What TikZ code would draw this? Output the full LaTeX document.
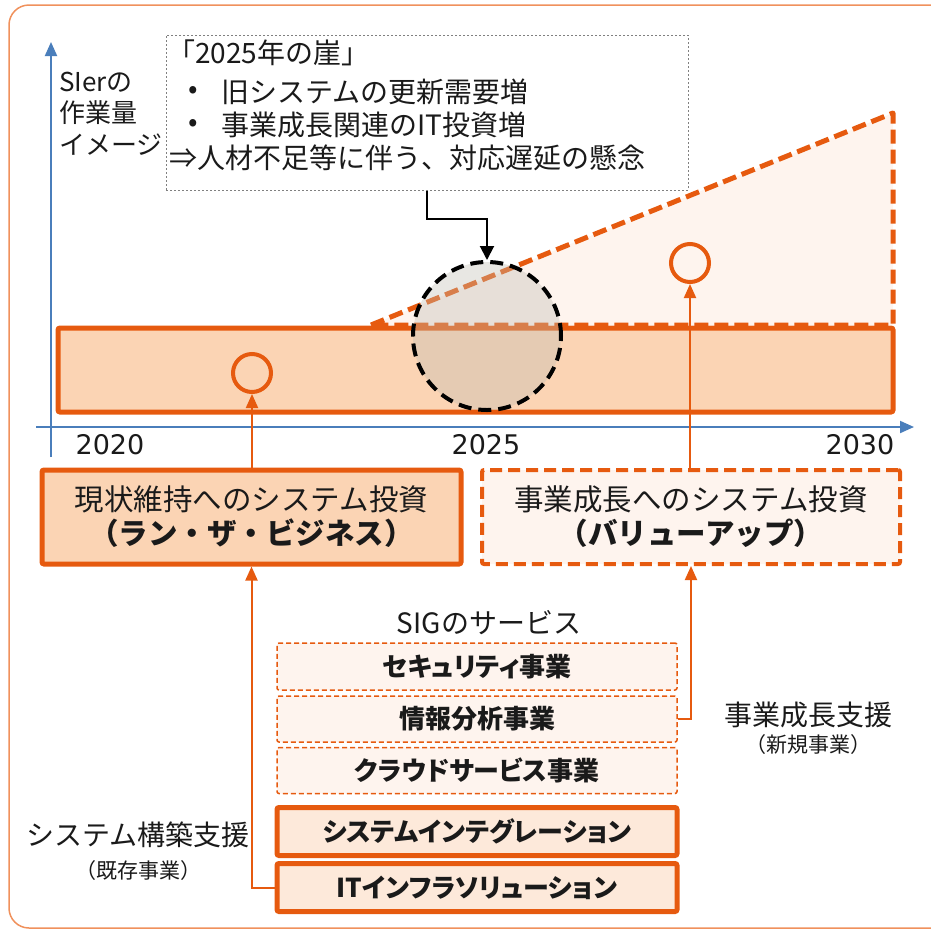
\documentclass[tikz,border=0pt]{standalone}
\usepackage{fontspec}
\setmainfont{Noto Sans CJK JP}
\newfontfamily\latf{DejaVu Sans}
\newfontfamily\jpp[RawFeature=+palt]{Noto Sans CJK JP}
\usetikzlibrary{arrows.meta}
\definecolor{org}{HTML}{E65A0F}
\definecolor{peach}{HTML}{FBD4B4}
\definecolor{pale}{HTML}{FEF4EE}
\definecolor{pale2}{HTML}{FDE9DA}
\definecolor{axisb}{HTML}{4A7EBB}
\definecolor{framec}{HTML}{F0915C}
\definecolor{txtc}{HTML}{1A1A1A}
\definecolor{gfill}{HTML}{C1BDB3}
\newcommand\fsB{\fontsize{28}{33}\selectfont}
\newcommand\fsX{\fontsize{29.5}{34}\selectfont}
\newcommand\fsL{\fontsize{26}{31}\selectfont}
\newcommand\fsS{\fontsize{21}{25}\selectfont}
\newcommand\fsY{\latf\fontsize{27}{30}\selectfont}
\newcommand\fsK{\jpp\bfseries\fontsize{26}{30}\selectfont}
\begin{document}
\begin{tikzpicture}[x=1pt,y=-1pt,
  txt/.style={inner sep=0pt,text=txtc},
  axisline/.style={draw=axisb,line width=2pt,-{Triangle[length=14pt,width=12pt]}},
  oarr/.style={draw=org,line width=2pt,-{Triangle[length=14pt,width=12pt]}},
  barr/.style={draw=black,line width=2pt,-{Triangle[length=14pt,width=14pt]}},
  mainbar/.style={draw=org,line width=5pt,fill=peach,rounded corners=2pt,inner sep=0pt},
  tri/.style={draw=org,line width=5pt,fill=pale,dash pattern=on 14pt off 6pt,line join=round},
  bigc/.style={circle,draw=black,line width=4pt,dash pattern=on 13pt off 7pt,fill=gfill,fill opacity=0.37,draw opacity=1,minimum size=148pt,inner sep=0pt},
  smc/.style={circle,draw=org,line width=4pt,minimum size=38pt,inner sep=0pt},
  callbox/.style={draw=gray,line width=1pt,dash pattern=on 2pt off 2pt,fill=white,inner sep=0pt},
  solidbox/.style={draw=org,line width=5pt,rounded corners=2pt,align=center,text=txtc,font=\fsX,inner sep=0pt},
  dashbox/.style={draw=org,line width=4pt,dash pattern=on 12pt off 6pt,rounded corners=2pt,align=center,text=txtc,font=\fsX,inner sep=0pt},
  dbox/.style={draw=org,line width=1.5pt,dash pattern=on 5pt off 3pt,fill=pale,rounded corners=2pt,text=txtc,font=\fsK,minimum width=400pt,inner sep=0pt},
  sbox/.style={draw=org,line width=5pt,fill=pale2,rounded corners=2pt,text=txtc,font=\fsK,minimum width=400pt,inner sep=0pt}
]
\useasboundingbox (0,0) rectangle (930,930);
% outer frame
\draw[draw=framec,line width=1.5pt,rounded corners=20pt] (9,5) rectangle (960,928);

% axes
\coordinate (yb) at (51,457);
\coordinate (yt) at (51,42);
\coordinate (xl) at (36,427);
\coordinate (xr) at (914,427);
\draw[axisline] (yb) -- (yt);
\draw[axisline] (xl) -- (xr);

% y label
\node[txt,anchor=west,font=\fsL] (yl1) at (59,82) {SIerの};
\node[txt,anchor=west,font=\fsL] (yl2) at (59,113) {作業量};
\node[txt,anchor=west,font=\fsL] (yl3) at (59,145) {イメージ};

% main bar
\node[mainbar,minimum width=835pt,minimum height=84pt] (bar) at (475.5,370) {};
% growth triangle
\draw[tri] (371,325) -- (893,113) -- (893,325) -- cycle;
% small circles
\node[smc] (c1) at (252,373) {};
\node[smc] (c2) at (690,263) {};
% big dashed circle
\node[bigc] (bigc) at (487,336) {};

% callout
\node[callbox,minimum width=522pt,minimum height=155pt] (call) at (427,112.5) {};
\node[txt,anchor=west,font=\fsB] (cl1) at (167,53) {「2025年の崖」};
\node[txt,font=\fsB] (bu1) at (193,92) {•};
\node[txt,anchor=west,font=\fsB] (cl2) at (221,92) {旧システムの更新需要増};
\node[txt,font=\fsB] (bu2) at (193,125) {•};
\node[txt,anchor=west,font=\fsB] (cl3) at (221,125) {事業成長関連のIT投資増};
\node[txt,anchor=west,font=\fsB] (cl4) at (169,158) {⇒人材不足等に伴う、対応遅延の懸念};
\draw[barr] (call.south) -- ++(0,28) -| (bigc.north);

% years
\node[txt,font=\fsY] (y20) at (110,445) {2020};
\node[txt,font=\fsY] (y25) at (486,445) {2025};
\node[txt,font=\fsY] (y30) at (860,445) {2030};

% investment boxes
\node[solidbox,fill=peach,minimum width=419pt,minimum height=94pt] (box1) at (251.5,517)
  {現状維持へのシステム投資\\{\bfseries （ラン・ザ・ビジネス）}};
\node[dashbox,fill=pale,minimum width=418pt,minimum height=94pt] (box2) at (691,517)
  {事業成長へのシステム投資\\{\bfseries （バリューアップ）}};
\draw[oarr] (c1 |- box1.north) -- (c1.south);
\draw[oarr] (c2 |- box2.north) -- (c2.south);

% services
\node[txt,font=\fsB] (sig) at (489,623) {SIGのサービス};
\node[dbox,minimum height=47pt] (sec) at (477,666.5) {セキュリティ事業};
\node[dbox,minimum height=46pt] (info) at (477,719) {情報分析事業};
\node[dbox,minimum height=46pt] (cloud) at (477,770.5) {クラウドサービス事業};
\node[sbox,minimum height=48pt] (si) at (477,831.5) {システムインテグレーション};
\node[sbox,minimum height=48pt] (iti) at (477,887.5) {ITインフラソリューション};
\draw[oarr] (iti.west) -| (box1.south);
\draw[oarr] (info.east) -| (box2.south);

% side labels
\node[txt,font=\fsB] (sys) at (138,835) {システム構築支援};
\node[txt,font=\fsS] (sys2) at (138,871) {（既存事業）};
\node[txt,font=\fsB] (gro) at (808,715) {事業成長支援};
\node[txt,font=\fsS] (gro2) at (808,745) {（新規事業）};
\end{tikzpicture}
\end{document}
